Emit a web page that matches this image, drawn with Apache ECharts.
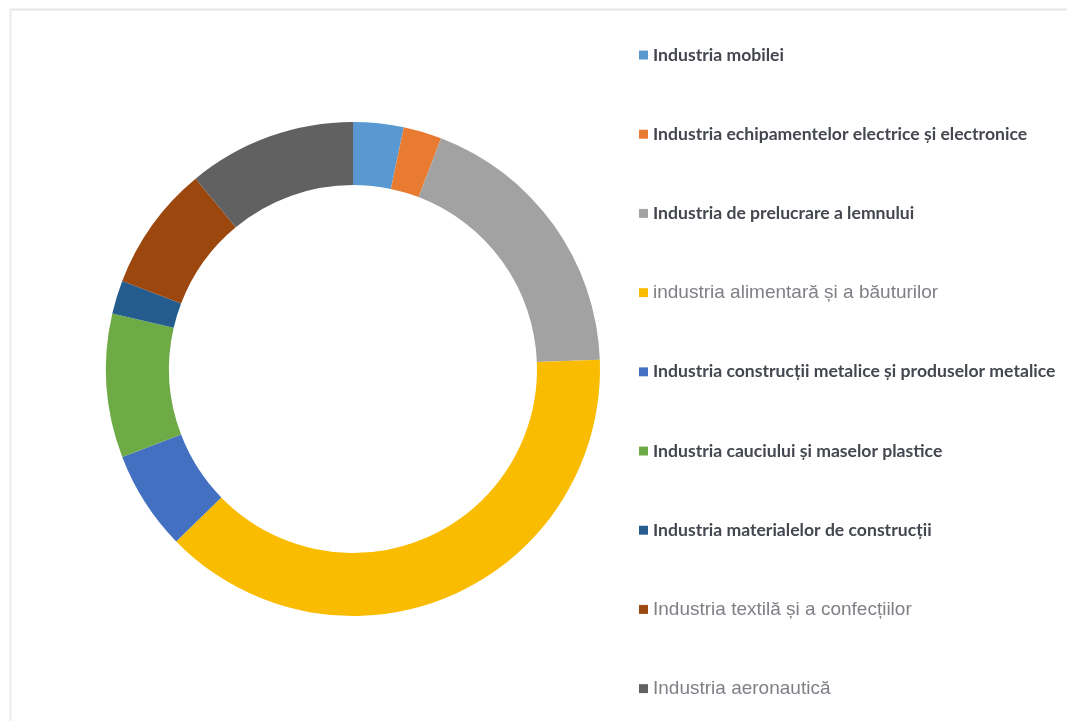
<!DOCTYPE html>
<html>
<head>
<meta charset="utf-8">
<script src="https://cdn.jsdelivr.net/npm/echarts@6/dist/echarts.min.js"></script>
<style>
  html, body { margin: 0; padding: 0; background: #ffffff; }
  #chart { width: 1067px; height: 721px; }
</style>
</head>
<body>
<div id="chart"></div>
<script>
// Sectors, in clockwise order from 12 o'clock
const categories = [
  'Industria mobilei',
  'Industria echipamentelor electrice și electronice',
  'Industria de prelucrare a lemnului',
  'industria alimentară și a băuturilor',
  'Industria construcții metalice și produselor metalice',
  'Industria cauciului și maselor plastice',
  'Industria materialelor de construcții',
  'Industria textilă și a confecțiilor',
  'Industria aeronautică'
];
// Share of each sector (%)
const shares = [3.3, 2.5, 18.6, 38.3, 6.5, 9.4, 2.2, 8.2, 11.0];
const colors = ['#5B9BD5', '#ED7D31', '#A5A5A5', '#FFC000', '#4472C4', '#70AD47', '#255E91', '#9E480E', '#636363'];
// Legend entries drawn in the lighter regular face
const plainLabels = [
  'industria alimentară și a băuturilor',
  'Industria textilă și a confecțiilor',
  'Industria aeronautică'
];

function shade(hex, f) {
  const n = parseInt(hex.slice(1), 16);
  let r = (n >> 16) & 255, g = (n >> 8) & 255, b = n & 255;
  const m = v => Math.max(0, Math.min(255, Math.round(f >= 0 ? v + (255 - v) * f : v * (1 + f))));
  return 'rgb(' + m(r) + ',' + m(g) + ',' + m(b) + ')';
}

const chart = echarts.init(document.getElementById('chart'), null, { renderer: 'canvas' });

chart.setOption({
  backgroundColor: '#ffffff',
  animation: false,
  graphic: [
    { type: 'line', shape: { x1: 10, y1: 9.5, x2: 1067, y2: 9.5 }, style: { stroke: '#e6e6e6', lineWidth: 2 } },
    { type: 'line', shape: { x1: 10.5, y1: 9, x2: 10.5, y2: 721 }, style: { stroke: '#ececec', lineWidth: 2 } }
  ],
  legend: {
    orient: 'vertical',
    left: 634,
    top: 40,
    itemGap: 59.2,
    itemWidth: 9,
    itemHeight: 9,
    icon: 'rect',
    selectedMode: false,
    data: categories,
    formatter: name => plainLabels.includes(name) ? '{r|' + name + '}' : '{b|' + name + '}',
    textStyle: {
      padding: [0, 0, 0, 0],
      height: 20,
      lineHeight: 20,
      rich: {
        b: { fontFamily: 'Lato', fontWeight: 'bold', fontSize: 17.6, color: '#44474f', lineHeight: 20, height: 20 },
        r: { fontFamily: 'Liberation Sans', fontWeight: 'normal', fontSize: 19, color: '#7f8086', lineHeight: 20, height: 20 }
      }
    }
  },
  series: [{
    type: 'pie',
    center: [353, 369],
    radius: [184, 247],
    startAngle: 90,
    clockwise: true,
    avoidLabelOverlap: false,
    label: { show: false },
    labelLine: { show: false },
    emphasis: { disabled: true },
    itemStyle: { borderWidth: 0 },
    data: categories.map((name, i) => ({
      name: name,
      value: shares[i],
      itemStyle: {
        color: {
          type: 'linear', x: 0, y: 0, x2: 0, y2: 1, global: true,
          colorStops: [
            { offset: 0.15, color: shade(colors[i], 0.1) },
            { offset: 0.9, color: shade(colors[i], -0.02) }
          ]
        }
      }
    }))
  }]
});
</script>
</body>
</html>
